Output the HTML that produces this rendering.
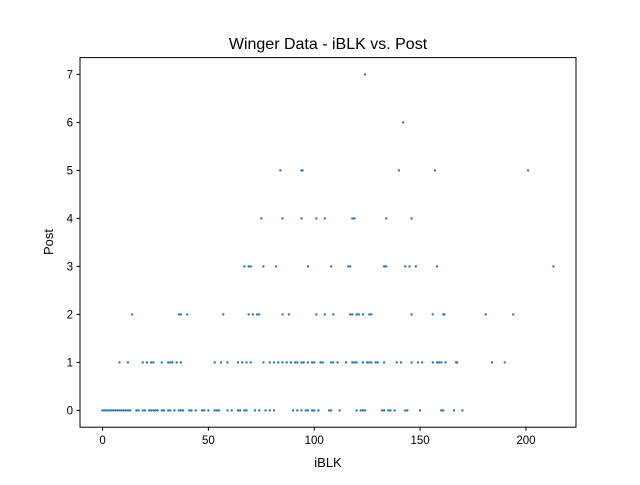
<!DOCTYPE html>
<html><head><meta charset="utf-8"><style>
html,body{margin:0;padding:0;background:#fff;}
svg text{font-family:"Liberation Sans","DejaVu Sans",sans-serif;fill:#000;}
</style></head><body>
<svg id="chart" width="640" height="480" xmlns="http://www.w3.org/2000/svg">
<rect width="640" height="480" fill="#fff"/>
<text x="328" y="49" font-size="16" text-anchor="middle">Winger Data - iBLK vs. Post</text>
<g id="marks"></g>
<rect x="80" y="57.6" width="496" height="369.6" fill="none" stroke="#000" stroke-width="1"/>
<g id="xticks"></g>
<g id="yticks"></g>
<text x="328" y="467" font-size="13" text-anchor="middle">iBLK</text>
<text x="0" y="0" font-size="13" text-anchor="middle" transform="translate(53,242) rotate(-90)">Post</text>
</svg>
<script>
const post0 = [0,1,2,3,4,5,6,7,8,9,10,11,12,13,16,17,19,20,22,23,24,25,26,28,29,31,32,34,36,37,38,41,42,44,47,48,50,53,54,55,59,61,64,65,67,68,72,74,77,79,81,90,92,94,96,97,99,100,102,107,108,112,120,122,123,124,132,133,135,136,138,143,144,150,160,161,166,170];
const post1 = [8,12,19,21,23,24,28,31,32,33,35,37,53,56,59,64,66,68,70,76,79,81,83,85,87,89,91,92,94,95,97,99,100,103,104,108,109,111,115,118,119,120,123,125,126,127,129,130,133,139,141,146,149,151,156,158,159,160,162,167,167.5,184,190];
const post2 = [14,36,37,40,57,69,71,73,74,85,88,101,105,109,117,118,120,121,123,126,127,146,156,161,161.5,181,194];
const post3 = [67,69,70,76,82,97,108,116,117,133,134,143,145,148,158,213];
const post4 = [75,85,94,101,105,118,119,134,146];
const post5 = [84,94,94.5,140,157,201];
const post6 = [142];
const post7 = [124];
const xTicks = [0,50,100,150,200];
const yTicks = [0,1,2,3,4,5,6,7];
const rows = [post0,post1,post2,post3,post4,post5,post6,post7];

const X0=80,X1=576,Y0=427.2,Y1=57.6;
const xmin=-10.65,xmax=223.65,ymin=-0.35,ymax=7.35;
const sx=v=>X0+(v-xmin)/(xmax-xmin)*(X1-X0);
const sy=v=>Y0-(v-ymin)/(ymax-ymin)*(Y0-Y1);
const NS='http://www.w3.org/2000/svg';
const marks=document.getElementById('marks');
rows.forEach((arr,post)=>{arr.forEach(b=>{
  const c=document.createElementNS(NS,'circle');
  c.setAttribute('cx',sx(b));c.setAttribute('cy',sy(post));c.setAttribute('r',1.2);
  c.setAttribute('fill','#1f77b4');
  
  
  marks.appendChild(c);
});});
const xg=document.getElementById('xticks');
xTicks.forEach(t=>{
  const x=sx(t);
  const l=document.createElementNS(NS,'line');
  l.setAttribute('x1',x);l.setAttribute('x2',x);l.setAttribute('y1',Y0);l.setAttribute('y2',Y0+3.5);l.setAttribute('stroke','#000');
  
  
  xg.appendChild(l);
  const tx=document.createElementNS(NS,'text');
  tx.setAttribute('x',x);tx.setAttribute('y',Y0+17);tx.setAttribute('font-size','11.5');tx.setAttribute('text-anchor','middle');
  tx.textContent=t;
  
  
  xg.appendChild(tx);
});
const yg=document.getElementById('yticks');
yTicks.forEach(t=>{
  const y=sy(t);
  const l=document.createElementNS(NS,'line');
  l.setAttribute('x1',X0-3.5);l.setAttribute('x2',X0);l.setAttribute('y1',y);l.setAttribute('y2',y);l.setAttribute('stroke','#000');
  
  
  yg.appendChild(l);
  const tx=document.createElementNS(NS,'text');
  tx.setAttribute('x',X0-7);tx.setAttribute('y',y+4);tx.setAttribute('font-size','11.5');tx.setAttribute('text-anchor','end');
  tx.textContent=t;
  
  
  yg.appendChild(tx);
});
</script>
</body></html>
